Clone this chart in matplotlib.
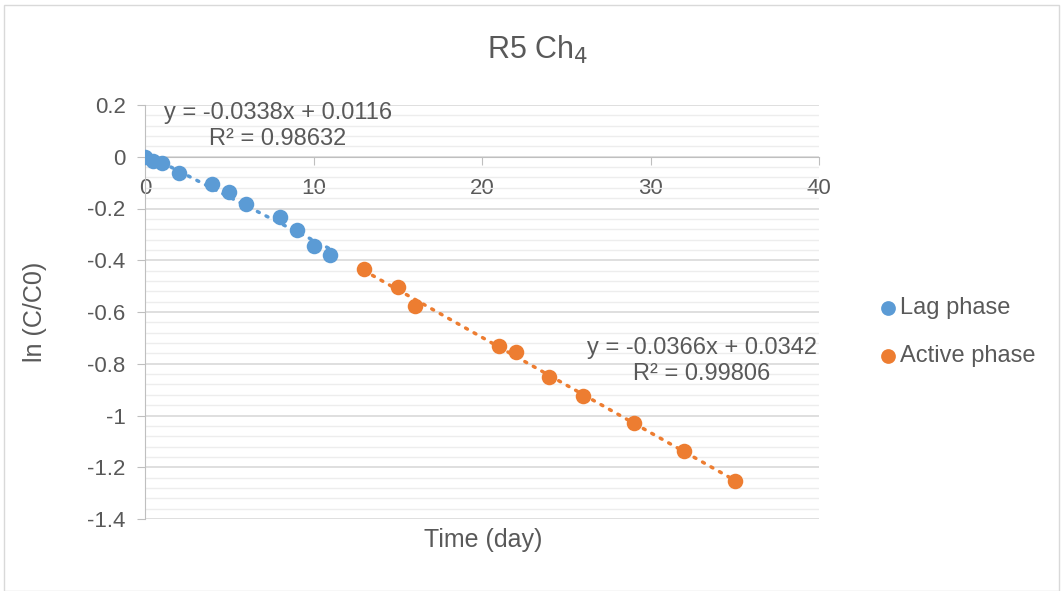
import numpy as np
import matplotlib
matplotlib.use('Agg')
import matplotlib.pyplot as plt
from matplotlib.ticker import MultipleLocator

# data
lag_day = [0, 0.5, 1, 2, 4, 5, 6, 8, 9, 10, 11]
lag_ln = [0, -0.015, -0.024, -0.063, -0.106, -0.137, -0.183, -0.231, -0.282, -0.343, -0.379]
act_day = [13, 15, 16, 21, 22, 24, 26, 29, 32, 35]
act_ln = [-0.434, -0.505, -0.576, -0.730, -0.755, -0.850, -0.926, -1.030, -1.137, -1.252]

lag_eq = "y = -0.0338x + 0.0116\nR² = 0.98632"
act_eq = "y = -0.0366x + 0.0342\nR² = 0.99806"

blue = '#5B9BD5'
orange = '#ED7D31'
txt = '#595959'

plt.rcParams['font.family'] = ['Liberation Sans', 'DejaVu Sans']

fig = plt.figure(figsize=(10.63, 5.91), dpi=100)
ax = fig.add_axes([145 / 1063, 1 - 519 / 591, (819 - 145) / 1063, (519 - 105) / 591])

# trendlines
for xs, ys, c in [(lag_day, lag_ln, blue), (act_day, act_ln, orange)]:
    k, b = np.polyfit(xs, ys, 1)
    xx = np.array([min(xs), max(xs)])
    ax.plot(xx, k * xx + b, color=c, lw=2.5, linestyle=(0, (0.6, 2.2)),
            dash_capstyle='round', zorder=3)

ax.scatter(lag_day, lag_ln, s=125, color=blue, label='Lag phase', zorder=4, linewidths=0)
ax.scatter(act_day, act_ln, s=125, color=orange, label='Active phase', zorder=4, linewidths=0)

ax.set_xlim(0, 40)
ax.set_ylim(-1.4, 0.2)
ax.xaxis.set_major_locator(MultipleLocator(10))
ax.yaxis.set_major_locator(MultipleLocator(0.2))
ax.yaxis.set_minor_locator(MultipleLocator(0.04))
ax.yaxis.set_major_formatter(plt.FuncFormatter(
    lambda v, p: f"{v:.1f}".rstrip('0').rstrip('.') if abs(v) > 1e-9 else '0'))

ax.grid(axis='y', which='major', color='#D9D9D9', lw=1.2, zorder=0)
ax.grid(axis='y', which='minor', color='#EDEDED', lw=1.0, zorder=0)
ax.set_axisbelow(True)

ax.spines['top'].set_visible(False)
ax.spines['right'].set_visible(False)
ax.spines['bottom'].set_position(('data', 0))
ax.spines['bottom'].set_color('#BFBFBF')
ax.spines['left'].set_color('#BFBFBF')
ax.tick_params(axis='x', which='major', direction='out', length=6, color='#BFBFBF',
               labelsize=16, labelcolor=txt, pad=9)
ax.tick_params(axis='y', which='major', direction='out', length=6, color='#BFBFBF',
               labelsize=16, labelcolor=txt, pad=8)
ax.tick_params(axis='y', which='minor', length=0)
for lbl in ax.get_xticklabels():
    lbl.set_bbox(dict(facecolor='white', edgecolor='none', pad=0.5))

fig.text(483 / 1063, 1 - 540 / 591, 'Time (day)', ha='center', va='center', fontsize=18, color=txt)
fig.text(35 / 1063, 1 - 312 / 591, 'ln (C/C0)', ha='center', va='center', fontsize=18,
         color=txt, rotation=90)
fig.text(538 / 1063, 1 - 50 / 591, r'R5 Ch$_4$', ha='center', va='center', fontsize=22, color=txt)

fig.text(278 / 1063, 1 - 126 / 591, lag_eq, ha='center', va='center', fontsize=17,
         color=txt, linespacing=1.2)
fig.text(702 / 1063, 1 - 361 / 591, act_eq, ha='center', va='center', fontsize=17,
         color=txt, linespacing=1.2)

leg = fig.legend(loc='center left', bbox_to_anchor=(867 / 1063, 1 - 332 / 591), frameon=False,
                 fontsize=17, handletextpad=0.0, labelspacing=1.1, markerscale=0.95,
                 borderaxespad=0, handlelength=1.0)
for t in leg.get_texts():
    t.set_color(txt)

# chart border
fig.patches.append(plt.Rectangle((4 / 1063, 0), 1 - 8 / 1063, 1 - 5 / 591, transform=fig.transFigure,
                                 fill=False, edgecolor='#D9D9D9', lw=1))

fig.savefig('out.png', dpi=100)
